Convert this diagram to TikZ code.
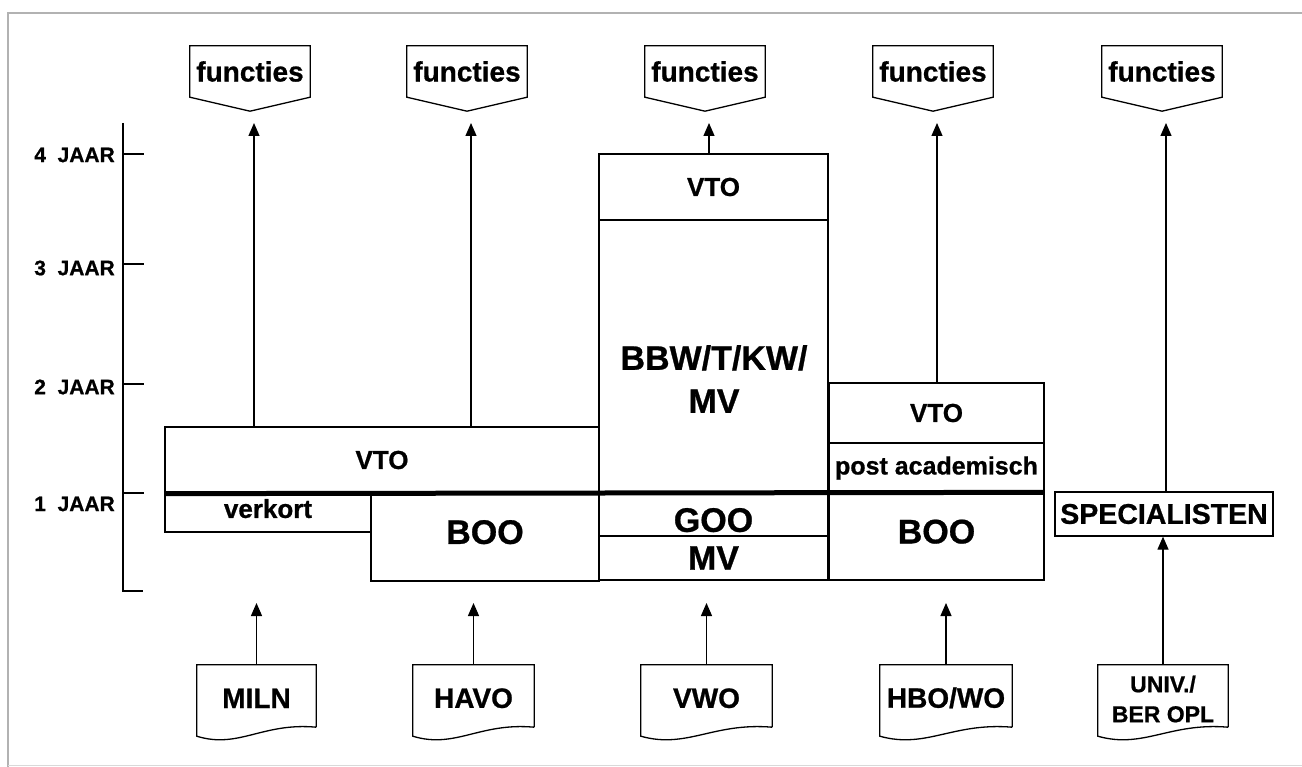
\documentclass[tikz,border=0pt]{standalone}
\usepackage{fontspec}
\setmainfont{Liberation Sans}[BoldFeatures={FakeBold=0.8}]
\usepackage{tikz}
\usetikzlibrary{positioning,calc,arrows.meta}

\newcommand{\fntjaar}{\bfseries\fontsize{21}{23}\selectfont}
\newcommand{\fntlab}{\bfseries\fontsize{28}{30}\selectfont}
\newcommand{\fntmid}{\bfseries\fontsize{26}{28}\selectfont}
\newcommand{\fntbig}{\bfseries\fontsize{34}{36}\selectfont}
\newcommand{\fntbbw}{\bfseries\fontsize{34}{43}\selectfont}
\newcommand{\fntpost}{\bfseries\fontsize{25}{27}\selectfont}
\newcommand{\fntspec}{\bfseries\fontsize{28.5}{30}\selectfont}
\newcommand{\fntuniv}{\bfseries\fontsize{23}{30}\selectfont}

\tikzset{
  bline/.style={line width=1.3pt},
  arr/.style={bline, -{Triangle[length=13pt,width=11pt]}},
  cell/.style={draw, bline, inner sep=0pt},
  fun/.style={inner sep=0pt, minimum width=120pt, minimum height=51pt, font=\fntlab},
  docu/.style={inner sep=0pt, minimum height=62pt, font=\fntlab},
  docone/.style={docu, text height=24pt}
}

\begin{document}
\begin{tikzpicture}[x=1pt,y=-1pt]
\useasboundingbox (0,0) rectangle (1302,767);

% kader
\draw[gray!60, line width=1.5pt] (1302,13) -- (8,13) -- (8,767);
\draw[gray!30, line width=1pt] (8,765) -- (1302,765);

% tijdas
\draw[bline] (123,123) -- (123,591) -- (143,591);
\foreach \y/\t/\n in {154/155/4,264/268/3,384/387/2,493/504/1}{
  \draw[bline] (123,\y) -- (144,\y);
  \node[anchor=east, inner sep=0pt, font=\fntjaar] (jaar\n) at (115,\t) {\n\ \ JAAR};
}

%%%%%%%%%%%%%%%%%%%%%%%%%%%%%%%%

% functies
\foreach \x/\n in {250/1,467/2,705/3,933/4,1162/5}{
  \node[fun] (fun\n) at (\x,71.5) {functies};
  \draw[bline] (fun\n.north west) -- (fun\n.north east) -- (fun\n.south east)
     -- ($(fun\n.south)+(0,14)$) -- (fun\n.south west) -- cycle;
}
\coordinate (tip1) at (254,123);
\coordinate (tip2) at (471,123);
\coordinate (tip3) at (709,123);
\coordinate (tip4) at (937,123);
\coordinate (tip5) at (1166,123);

%%%%%%%%%%%%%%%%%%%%%%%%%%%%%%%%

% MILN / HAVO
\node[cell, minimum width=434pt, minimum height=66pt, font=\fntmid] (vto1) at (382,460) {VTO};
\node[cell, minimum width=206pt, minimum height=39pt, font=\fntmid, text depth=8pt] (verkort) at (268,512.5) {verkort};
\node[cell, minimum width=228pt, minimum height=88pt, font=\fntbig, text depth=10pt] (boo1) at (485,537) {BOO};

% VWO
\node[cell, minimum width=229pt, minimum height=66pt, font=\fntmid] (vto2) at (713.5,187) {VTO};
\node[cell, minimum width=229pt, minimum height=273pt] (bbw) at (713.5,356.5) {};
\node[font=\fntbbw, align=center, inner sep=0pt] (bbwtxt) at (714,379) {BBW/T/KW/\\MV};
\node[cell, minimum width=229pt, minimum height=43pt, font=\fntbig, text height=35pt] (goo) at (713.5,514.5) {GOO};
\node[cell, minimum width=229pt, minimum height=44pt, font=\fntbig] (mv) at (713.5,558) {MV};

% HBO/WO
\node[cell, minimum width=215pt, minimum height=60pt, font=\fntmid] (vto3) at (936.5,413) {VTO};
\node[cell, minimum width=215pt, minimum height=50pt, font=\fntpost] (post) at (936.5,468) {post academisch};
\node[cell, minimum width=215pt, minimum height=87pt, font=\fntbig, text depth=10pt] (boo2) at (936.5,536.5) {BOO};

% 1 jaar
\draw[line width=5pt] (vto1.south west) -- (boo2.north east);

% specialisten
\node[cell, minimum width=218pt, minimum height=44pt, font=\fntspec] (spec) at (1164,514) {SPECIALISTEN};

%%%%%%%%%%%%%%%%%%%%%%%%%%%%%%%%

% vooropleidingen
\node[docone, minimum width=119pt] (miln) at (256.5,696) {MILN};
\node[docone, minimum width=121pt] (havo) at (473.5,696) {HAVO};
\node[docone, minimum width=131pt] (vwo) at (706.5,696) {VWO};
\node[docone, minimum width=132pt] (hbo) at (946,696) {HBO/WO};
\node[docu, minimum width=130pt, font=\fntuniv, align=center] (univ) at (1163,699) {UNIV./\\BER OPL};

\foreach \n in {miln,havo,vwo,hbo}{
  \draw[bline] (\n.south east) -- (\n.north east) -- (\n.north west) -- ($(\n.south west)+(0,9)$)
     .. controls ($(\n.south west)!.35!(\n.south east)+(0,22)$) and ($(\n.south west)!.55!(\n.south east)+(0,-5)$) .. (\n.south east);
}
\draw[bline] ($(univ.south east)+(0,-3)$) -- ($(univ.north east)+(0,-3)$) -- ($(univ.north west)+(0,-3)$) -- ($(univ.south west)+(0,6)$)
   .. controls ($(univ.south west)!.35!(univ.south east)+(0,19)$) and ($(univ.south west)!.55!(univ.south east)+(0,-8)$) .. ($(univ.south east)+(0,-3)$);

\coordinate (basetip) at (0,603);

% pijlen
\draw[arr] (miln.north) -- (miln.north |- basetip);
\draw[arr] (havo.north) -- (havo.north |- basetip);
\draw[arr] (vwo.north) -- (vwo.north |- basetip);
\draw[arr] (hbo.north) -- (hbo.north |- basetip);
\draw[arr] ($(univ.north)+(0,-3)$) -- (univ.north |- spec.south);

\draw[arr] (vto1.north -| tip1) -- (tip1);
\draw[arr] (vto1.north -| tip2) -- (tip2);
\draw[arr] (vto2.north -| tip3) -- (tip3);
\draw[arr] (vto3.north -| tip4) -- (tip4);
\draw[arr] (spec.north -| tip5) -- (tip5);

\end{tikzpicture}
\end{document}
